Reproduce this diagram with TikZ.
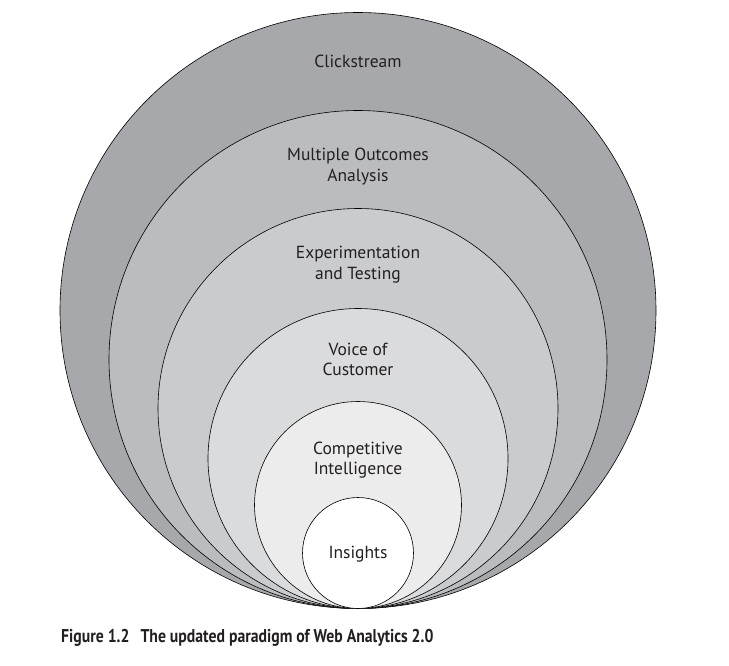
\documentclass[tikz,border=0pt]{standalone}
\usepackage{fontspec}
\setmainfont{PT Sans}
\usepackage{graphicx}
\definecolor{ringA}{HTML}{A7A8AB}
\definecolor{ringB}{HTML}{BBBCBF}
\definecolor{ringC}{HTML}{CACBCD}
\definecolor{ringD}{HTML}{DADBDC}
\definecolor{ringE}{HTML}{ECECEC}
\definecolor{inktext}{HTML}{231F20}
\tikzset{
    ring/.style={draw=black, line width=0.6pt, circle, inner sep=0pt},
    tag/.style={align=center, text=inktext, font=\fontsize{17.5}{20.5}\selectfont}
}
\begin{document}
\begin{tikzpicture}[x=1pt, y=-1pt]
    \useasboundingbox (0,0) rectangle (729,665);

    % nested circles, all touching at the bottom
    \node [ring, fill=ringA, minimum size=596pt] (click) at (358,310.5) {};
    \node [ring, fill=ringB, minimum size=498pt] (multi) at (358,359.5) {};
    \node [ring, fill=ringC, minimum size=400pt] (exper) at (358,408.5) {};
    \node [ring, fill=ringD, minimum size=300pt] (voice) at (358,458.5) {};
    \node [ring, fill=ringE, minimum size=207pt] (compet) at (358,505) {};
    \node [ring, fill=white, minimum size=111pt] (insight) at (358,553) {};

    % labels
    \node [tag] (clicklbl) at (358,61) {Clickstream};
    \node [tag] (multilbl) at (358,166.5) {Multiple Outcomes\\Analysis};
    \node [tag] (experlbl) at (358,264.5) {Experimentation\\and Testing};
    \node [tag] (voicelbl) at (358,359.5) {Voice of\\Customer};
    \node [tag] (competlbl) at (358,460) {Competitive\\Intelligence};
    \node [tag] (insightlbl) at (358,554) {Insights};

    % caption
    \node [anchor=west, text=inktext, inner sep=0pt, font=\bfseries\fontsize{18.5}{20}\selectfont] (caption) at (61,638)
        {\scalebox{0.85}[1]{Figure 1.2\hspace{0.7em}The updated paradigm of Web Analytics 2.0}};
\end{tikzpicture}
\end{document}
